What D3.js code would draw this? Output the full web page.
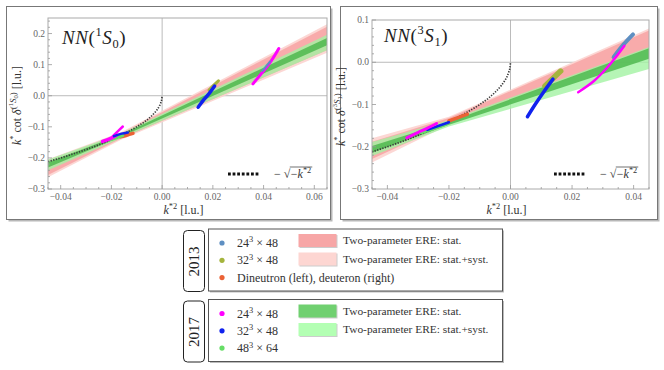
<!DOCTYPE html>
<html><head><meta charset="utf-8">
<script src="https://cdn.jsdelivr.net/npm/d3@7"></script>
<style>
body{margin:0;background:#fff}
svg{display:block}
text{font-family:"Liberation Serif","DejaVu Serif",serif}
</style>
</head><body>
<svg id="c" width="664" height="370"></svg>
<script>
// ---------------- DATA ----------------
const xTicksS0 = [-0.04, -0.02, 0, 0.02, 0.04, 0.06];
const yTicksS0 = [-0.3, -0.2, -0.1, 0, 0.1, 0.2];
const xTicksS1 = [-0.04, -0.02, 0, 0.02, 0.04];
const yTicksS1 = [-0.3, -0.2, -0.1, 0, 0.1];

// bands: [k*^2, lower, upper]
const ere2013SystS0 = [[-0.045, -0.262, -0.204], [-0.016, -0.141, -0.117], [0.065, 0.138, 0.230]];
const ere2013StatS0 = [[-0.045, -0.255, -0.210], [-0.016, -0.137, -0.121], [0.065, 0.146, 0.222]];
const ere2017SystS0 = [[-0.045, -0.240, -0.205], [-0.016, -0.136, -0.121], [0.065, 0.146, 0.196]];
const ere2017StatS0 = [[-0.045, -0.231, -0.214], [-0.016, -0.131, -0.125], [0.065, 0.162, 0.186]];

const ere2013SystS1 = [[-0.045, -0.237, -0.180], [-0.020, -0.148, -0.129], [0.045, 0.030, 0.080]];
const ere2013StatS1 = [[-0.045, -0.229, -0.188], [-0.020, -0.145, -0.132], [0.045, 0.034, 0.075]];
const ere2017SystS1 = [[-0.045, -0.222, -0.189], [-0.020, -0.152, -0.137], [0.045, -0.016, 0.036]];
const ere2017StatS1 = [[-0.045, -0.214, -0.198], [-0.020, -0.148, -0.141], [0.045, 0.008, 0.033]];

// -sqrt(-k*^2) reference curve, sampled values
const boundK2 = [-0.045, -0.04, -0.035, -0.03, -0.025, -0.02, -0.015, -0.01, -0.007, -0.005, -0.003, -0.002, -0.001, -0.0005, -0.0002, 0];
const boundVal = [-0.212, -0.200, -0.187, -0.173, -0.158, -0.141, -0.122, -0.100, -0.084, -0.071, -0.055, -0.045, -0.032, -0.022, -0.014, 0];

// lattice results (k*^2, k* cot delta) traced as streaks
const s0_2013_24 = [[0.0395, 0.080], [0.0425, 0.110]];
const s0_2013_32 = [[0.0185, 0.018], [0.0205, 0.035], [0.0222, 0.048]];
const s0_2013_dineutron = [[-0.0165, -0.132], [-0.014, -0.127], [-0.0115, -0.121]];
const s0_2017_24a = [[-0.0235, -0.147], [-0.0205, -0.138], [-0.018, -0.127]];
const s0_2017_24b = [[-0.0195, -0.131], [-0.0175, -0.115], [-0.0155, -0.099]];
const s0_2017_24c = [[0.0358, 0.038], [0.0395, 0.075], [0.043, 0.112], [0.046, 0.152]];
const s0_2017_32a = [[-0.019, -0.130], [-0.016, -0.122], [-0.0135, -0.118]];
const s0_2017_32b = [[0.0142, -0.037], [0.0165, -0.012], [0.0188, 0.010], [0.0207, 0.031]];
const s0_2017_48 = [[-0.021, -0.142], [-0.018, -0.135], [-0.0155, -0.128]];

const s1_2013_24 = [[0.0335, 0.012], [0.0365, 0.040], [0.0398, 0.066]];
const s1_2013_32 = [[0.0112, -0.056], [0.0163, -0.021]];
const s1_2013_deuteron = [[-0.020, -0.139], [-0.017, -0.131], [-0.014, -0.123]];
const s1_2017_24a = [[-0.0337, -0.179], [-0.030, -0.166], [-0.027, -0.156], [-0.024, -0.145]];
const s1_2017_24b = [[0.022, -0.071], [0.027, -0.045], [0.031, -0.016], [0.034, 0.010], [0.037, 0.039]];
const s1_2017_32a = [[-0.027, -0.160], [-0.0235, -0.151], [-0.020, -0.142]];
const s1_2017_32b = [[0.0055, -0.129], [0.008, -0.100], [0.011, -0.068], [0.0138, -0.040]];
const s1_2017_48 = [[-0.029, -0.167], [-0.025, -0.157], [-0.021, -0.147]];

const legend2013 = ["24|3| × 48", "32|3| × 48", "Dineutron (left), deuteron (right)"];
const legend2017 = ["24|3| × 48", "32|3| × 48", "48|3| × 64"];
const bandLabels = ["Two-parameter ERE: stat.", "Two-parameter ERE: stat.+syst."];

// ---------------- STYLE ----------------
const C = {
  b13: "#5e8fc2", o13: "#a4b43c", r13: "#eb6235",
  m17: "#ff00ff", b17: "#1022ee", g17: "#66dd66",
  pStat: "#f7a6a6", pSyst: "#fcd3cf", gStat: "#4fb84f", gSyst: "#a2f2a2"
};

const svg = d3.select("#c");

function rich(sel, parts, size) {
  let cur = 0;
  parts.forEach(p => {
    const fs = size * (p.s || 1);
    const target = (p.sh || 0) * size;
    const ts = sel.append("tspan").text(p.t).attr("font-size", fs)
      .attr("dy", target - cur);
    if (p.i) ts.attr("font-style", "italic");
    cur = target;
  });
  return sel;
}
function simpleSup(str) {
  const seg = str.split("|");
  const out = [];
  seg.forEach((s, k) => { if (s) out.push(k % 2 ? {t: s, s: 0.7, sh: -0.38} : {t: s}); });
  return out;
}

function panel(cfg) {
  const g = svg.append("g");
  g.append("rect").attr("x", cfg.fx + 2).attr("y", cfg.fy + 2).attr("width", cfg.fw).attr("height", cfg.fh).attr("fill", "#b8b8b8");
  g.append("rect").attr("x", cfg.fx).attr("y", cfg.fy).attr("width", cfg.fw).attr("height", cfg.fh)
    .attr("fill", "#fff").attr("stroke", "#777").attr("stroke-width", 1);

  const x = d3.scaleLinear().domain(cfg.xd).range([cfg.x0, cfg.x1]);
  const y = d3.scaleLinear().domain(cfg.yd).range([cfg.y1, cfg.y0]);
  const clipId = "clip" + cfg.id;
  g.append("clipPath").attr("id", clipId).append("rect")
    .attr("x", cfg.x0).attr("y", cfg.y0).attr("width", cfg.x1 - cfg.x0).attr("height", cfg.y1 - cfg.y0);
  const pg = g.append("g").attr("clip-path", `url(#${clipId})`);

  pg.append("line").attr("x1", x(0)).attr("x2", x(0)).attr("y1", cfg.y0).attr("y2", cfg.y1).attr("stroke", "#bbb").attr("stroke-width", 1);
  pg.append("line").attr("y1", y(0)).attr("y2", y(0)).attr("x1", cfg.x0).attr("x2", cfg.x1).attr("stroke", "#bbb").attr("stroke-width", 1);

  const area = d3.area().x(d => x(d[0])).y0(d => y(d[1])).y1(d => y(d[2]));
  [[cfg.bands[0], C.pSyst, 0.9], [cfg.bands[1], C.pStat, 0.9], [cfg.bands[2], C.gSyst, 0.8], [cfg.bands[3], C.gStat, 0.85]]
    .forEach(([b, col, op]) => pg.append("path").attr("d", area(b)).attr("fill", col).attr("fill-opacity", op));

  const bpts = boundK2.map((k, i) => [k, boundVal[i]]);
  pg.append("path").attr("d", d3.line().x(d => x(d[0])).y(d => y(d[1])).curve(d3.curveMonotoneX)(bpts))
    .attr("fill", "none").attr("stroke", "#3a3a3a").attr("stroke-width", 1.7).attr("stroke-dasharray", "1.3,1.4");

  const line = d3.line().x(d => x(d[0])).y(d => y(d[1])).curve(d3.curveCatmullRom);
  cfg.streaks.forEach(([pts, col, w]) => {
    pg.append("path").attr("d", line(pts)).attr("fill", "none").attr("stroke", col)
      .attr("stroke-width", w).attr("stroke-linecap", "round").attr("stroke-linejoin", "round");
  });

  g.append("rect").attr("x", cfg.x0).attr("y", cfg.y0).attr("width", cfg.x1 - cfg.x0).attr("height", cfg.y1 - cfg.y0)
    .attr("fill", "none").attr("stroke", "#aaa").attr("stroke-width", 1);
  const tg = g.append("g").attr("stroke", "#999").attr("stroke-width", 0.8);
  const xmin = d3.range(Math.ceil(cfg.xd[0] / 0.005), Math.floor(cfg.xd[1] / 0.005) + 1).map(i => i * 0.005);
  xmin.forEach(v => {
    const major = Math.abs(v / 0.02 - Math.round(v / 0.02)) < 1e-6;
    tg.append("line").attr("x1", x(v)).attr("x2", x(v)).attr("y1", cfg.y1).attr("y2", cfg.y1 - (major ? 4 : 2));
  });
  const ymin = d3.range(Math.ceil(cfg.yd[0] / 0.02 - 1e-6), Math.floor(cfg.yd[1] / 0.02 + 1e-6) + 1).map(i => i * 0.02);
  ymin.forEach(v => {
    const major = Math.abs(v / 0.1 - Math.round(v / 0.1)) < 1e-6;
    tg.append("line").attr("y1", y(v)).attr("y2", y(v)).attr("x1", cfg.x0).attr("x2", cfg.x0 + (major ? 4 : 2));
  });
  const fmtX = d => (d < -1e-9 ? "−" : "") + Math.abs(d).toFixed(2);
  const fmtY = d => (d < -1e-9 ? "−" : "") + Math.abs(d).toFixed(1);
  cfg.xt.forEach(v => g.append("text").attr("x", x(v)).attr("y", cfg.y1 + 11).attr("text-anchor", "middle")
    .attr("font-size", 9.5).attr("fill", "#666").text(fmtX(v)));
  cfg.yt.forEach(v => g.append("text").attr("x", cfg.x0 - 3).attr("y", y(v) + 3).attr("text-anchor", "end")
    .attr("font-size", 9.5).attr("fill", "#666").text(fmtY(v)));

  const xl = g.append("text").attr("x", (cfg.x0 + cfg.x1) / 2 - 4).attr("y", cfg.y1 + 25).attr("text-anchor", "middle").attr("fill", "#333");
  rich(xl, [{t: "k", i: true}, {t: "*2", s: 0.7, sh: -0.4}, {t: " [l.u.]", sh: 0}], 12);
  const yl = g.append("text").attr("transform", `translate(${cfg.x0 - 27},${(cfg.y0 + cfg.y1) / 2 + 2}) rotate(-90)`)
    .attr("text-anchor", "middle").attr("fill", "#333");
  rich(yl, [{t: "k", i: true}, {t: "*", s: 0.7, sh: -0.4}, {t: " cot ", sh: 0}, {t: "δ", i: true},
    {t: "(", s: 0.75, sh: -0.4}, {t: cfg.spin, s: 0.55, sh: -0.65}, {t: "S", i: true, s: 0.75, sh: -0.4},
    {t: cfg.lsub, s: 0.55, sh: -0.28}, {t: ")", s: 0.75, sh: -0.4}, {t: " [l.u.]", sh: 0}], 12);

  const tt = g.append("text").attr("x", cfg.tx).attr("y", cfg.ty).attr("fill", "#222").attr("letter-spacing", 0.6);
  rich(tt, [{t: "NN", i: true}, {t: "("}, {t: cfg.spin, s: 0.65, sh: -0.4}, {t: "S", i: true, sh: 0},
    {t: cfg.lsub, s: 0.65, sh: 0.22}, {t: ")", sh: 0}], 19);

  g.append("line").attr("x1", cfg.lx).attr("x2", cfg.lx + 32).attr("y1", cfg.ly).attr("y2", cfg.ly)
    .attr("stroke", "#111").attr("stroke-width", 2.8).attr("stroke-dasharray", "2.8,1.8");
  const t1 = g.append("text").attr("x", cfg.lx + 46).attr("y", cfg.ly + 4).attr("font-size", 12).attr("fill", "#333").text("− √");
  const w1 = t1.node().getBBox().width;
  const t2 = g.append("text").attr("x", cfg.lx + 46 + w1).attr("y", cfg.ly + 4).attr("fill", "#333");
  rich(t2, [{t: "−"}, {t: "k", i: true}, {t: "*2", s: 0.7, sh: -0.4}], 12);
  const bb = t2.node().getBBox();
  g.append("line").attr("x1", bb.x - 1).attr("x2", bb.x + bb.width + 1).attr("y1", cfg.ly - 7).attr("y2", cfg.ly - 7)
    .attr("stroke", "#333").attr("stroke-width", 0.7);
}

panel({
  id: "S0", fx: 6.5, fy: 6.5, fw: 324, fh: 213,
  x0: 48, x1: 327, y0: 18, y1: 189, xd: [-0.045, 0.065], yd: [-0.3, 0.25],
  xt: xTicksS0, yt: yTicksS0, spin: "1", lsub: "0", tx: 62, ty: 44, lx: 228, ly: 174,
  bands: [ere2013SystS0, ere2013StatS0, ere2017SystS0, ere2017StatS0],
  streaks: [
    [s0_2013_dineutron, C.r13, 3.5], [s0_2017_48, C.g17, 3],
    [s0_2017_24a, C.m17, 3.5], [s0_2017_24b, C.m17, 2.5], [s0_2017_32a, C.b17, 2.5],
    [s0_2013_32, C.o13, 3], [s0_2017_32b, C.b17, 3.5],
    [s0_2017_24c, C.m17, 3], [s0_2013_24, C.b13, 2]
  ]
});
panel({
  id: "S1", fx: 340.5, fy: 6.5, fw: 317, fh: 213,
  x0: 372, x1: 649, y0: 20, y1: 189, xd: [-0.045, 0.045], yd: [-0.3, 0.1],
  xt: xTicksS1, yt: yTicksS1, spin: "3", lsub: "1", tx: 384, ty: 42, lx: 554, ly: 174,
  bands: [ere2013SystS1, ere2013StatS1, ere2017SystS1, ere2017StatS1],
  streaks: [
    [s1_2013_deuteron, C.r13, 3.5], [s1_2017_48, C.g17, 3],
    [s1_2017_32a, C.b17, 2.5], [s1_2017_24a, C.m17, 3],
    [s1_2013_32, C.o13, 5.5], [s1_2017_32b, C.b17, 3.5],
    [s1_2013_24, C.b13, 4], [s1_2017_24b, C.m17, 2.5]
  ]
});

// ---------------- LEGENDS ----------------
function legendBlock(year, y0, h, dots, labels, swatches) {
  const g = svg.append("g");
  g.append("rect").attr("x", 183.5).attr("y", y0 + 1).attr("width", 21).attr("height", h - 1).attr("rx", 4)
    .attr("fill", "#fff").attr("stroke", "#222").attr("stroke-width", 1);
  g.append("text").attr("transform", `translate(${198.5},${y0 + h / 2 + 1}) rotate(-90)`).attr("text-anchor", "middle")
    .attr("font-size", 15).attr("fill", "#222").text(year);
  g.append("rect").attr("x", 210).attr("y", y0 + 1).attr("width", 294).attr("height", h).attr("fill", "#bbb");
  g.append("rect").attr("x", 208.5).attr("y", y0 - 0.5).attr("width", 294).attr("height", h)
    .attr("fill", "#fff").attr("stroke", "#555").attr("stroke-width", 1);
  labels.forEach((lab, i) => {
    const yy = y0 + 13.5 + i * 17.3;
    g.append("circle").attr("cx", 222).attr("cy", yy).attr("r", 2.6).attr("fill", dots[i]);
    const t = g.append("text").attr("x", 237).attr("y", yy + 4).attr("fill", "#333");
    rich(t, simpleSup(lab), 12);
  });
  swatches.forEach((col, i) => {
    const yy = y0 + 4.5 + i * 18.5;
    g.append("rect").attr("x", 299.5).attr("y", yy + 1).attr("width", 38).attr("height", 13).attr("fill", "#ccc");
    g.append("rect").attr("x", 298.5).attr("y", yy).attr("width", 38).attr("height", 13).attr("fill", col);
    g.append("text").attr("x", 343).attr("y", yy + 10).attr("font-size", 11.4).attr("fill", "#333").text(bandLabels[i]);
  });
}
legendBlock("2013", 229.5, 62, [C.b13, C.o13, C.r13], legend2013, ["#f7a6a6", "#fdd6d2"]);
legendBlock("2017", 300, 62, [C.m17, C.b17, C.g17], legend2017, ["#70d070", "#b3ffb3"]);
</script>
</body></html>
